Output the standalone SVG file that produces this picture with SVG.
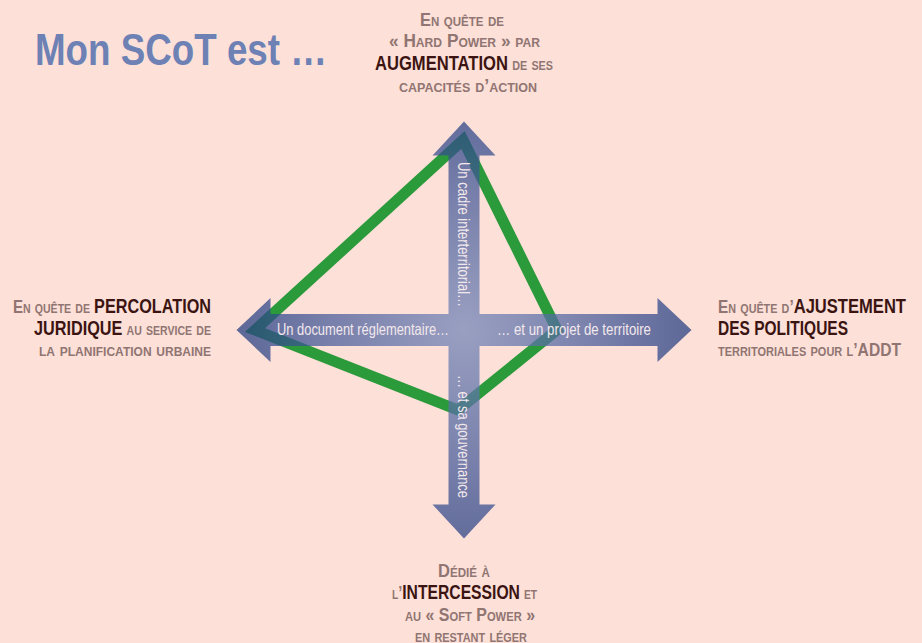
<svg xmlns="http://www.w3.org/2000/svg" width="922" height="643" viewBox="0 0 922 643">
<style>
.t{font-family:"Liberation Sans",Arial,sans-serif;font-weight:bold}
.g{fill:#907572;font-variant:small-caps;font-size:18.5px}
.b{fill:#3b1412;font-variant:normal;font-size:20px}
.w{font-family:"Liberation Sans",Arial,sans-serif;font-size:16.5px;fill:#f3e8ec}
</style>
<defs>
<radialGradient id="ag" gradientUnits="userSpaceOnUse" cx="464" cy="330" r="230">
<stop offset="0" stop-color="#7688b9"/>
<stop offset="0.55" stop-color="#4a5f9c"/>
<stop offset="1" stop-color="#233c80"/>
</radialGradient>
</defs>
<rect width="922" height="643" fill="#fde0d8"/>
<g id="title"><text class="t" x="35" y="65" font-size="44" fill="#6e81b5" textLength="292" lengthAdjust="spacingAndGlyphs">Mon SCoT est …</text></g>
<g id="connectors">
<polygon points="463,140 557,330 458,410 255,330" fill="none" stroke="#2b9a3b" stroke-width="11" stroke-linejoin="miter"/>
<g opacity="0.735" fill="url(#ag)">
<path d="M464,121.5 L495.5,155.5 L479.5,155.5 L479.5,314 L657.5,314 L657.5,298 L691.5,330 L657.5,362 L657.5,346 L479.5,346 L479.5,504.5 L495.5,504.5 L464,538.5 L432.5,504.5 L448.5,504.5 L448.5,346 L270.5,346 L270.5,362 L236.5,330 L270.5,298 L270.5,314 L448.5,314 L448.5,155.5 L432.5,155.5 Z"/>
</g>
<text class="w" x="277" y="335" textLength="172" lengthAdjust="spacingAndGlyphs">Un document réglementaire…</text>
<text class="w" x="497" y="335" textLength="154" lengthAdjust="spacingAndGlyphs">… et un projet de territoire</text>
<text class="w" transform="translate(458,162) rotate(90)" textLength="145" lengthAdjust="spacingAndGlyphs">Un cadre interterritorial…</text>
<text class="w" transform="translate(458,375) rotate(90)" textLength="123" lengthAdjust="spacingAndGlyphs">… et sa gouvernance</text>
</g>
<g id="top">
<text class="t g" x="420" y="26" textLength="84" lengthAdjust="spacingAndGlyphs">En quête de</text>
<text class="t g" x="389" y="47" textLength="151" lengthAdjust="spacingAndGlyphs">« Hard Power » par</text>
<text class="t g" x="375" y="70" textLength="178" lengthAdjust="spacingAndGlyphs"><tspan class="b">AUGMENTATION</tspan> de ses</text>
<text class="t g" x="399" y="92" textLength="138" lengthAdjust="spacingAndGlyphs">capacités d’action</text>
</g>
<g id="left">
<text class="t g" x="13" y="313" textLength="198" lengthAdjust="spacingAndGlyphs">En quête de <tspan class="b">PERCOLATION</tspan></text>
<text class="t g" x="34" y="335" textLength="177" lengthAdjust="spacingAndGlyphs"><tspan class="b">JURIDIQUE</tspan> au service de</text>
<text class="t g" x="39" y="356" textLength="172" lengthAdjust="spacingAndGlyphs">la planification urbaine</text>
</g>
<g id="right">
<text class="t g" x="718" y="313" textLength="188" lengthAdjust="spacingAndGlyphs">En quête d’<tspan class="b">AJUSTEMENT</tspan></text>
<text class="t b" x="718" y="335" textLength="130" lengthAdjust="spacingAndGlyphs">DES POLITIQUES</text>
<text class="t g" x="718" y="356" textLength="183" lengthAdjust="spacingAndGlyphs">territoriales pour l’ADDT</text>
</g>
<g id="bottom">
<text class="t g" x="438" y="577" textLength="52" lengthAdjust="spacingAndGlyphs">Dédié à</text>
<text class="t g" x="392" y="599" textLength="145" lengthAdjust="spacingAndGlyphs">l’<tspan class="b">INTERCESSION</tspan> et</text>
<text class="t g" x="405" y="621" textLength="130" lengthAdjust="spacingAndGlyphs">au « Soft Power »</text>
<text class="t g" x="415" y="642" textLength="112" lengthAdjust="spacingAndGlyphs">en restant léger</text>
</g>
</svg>
